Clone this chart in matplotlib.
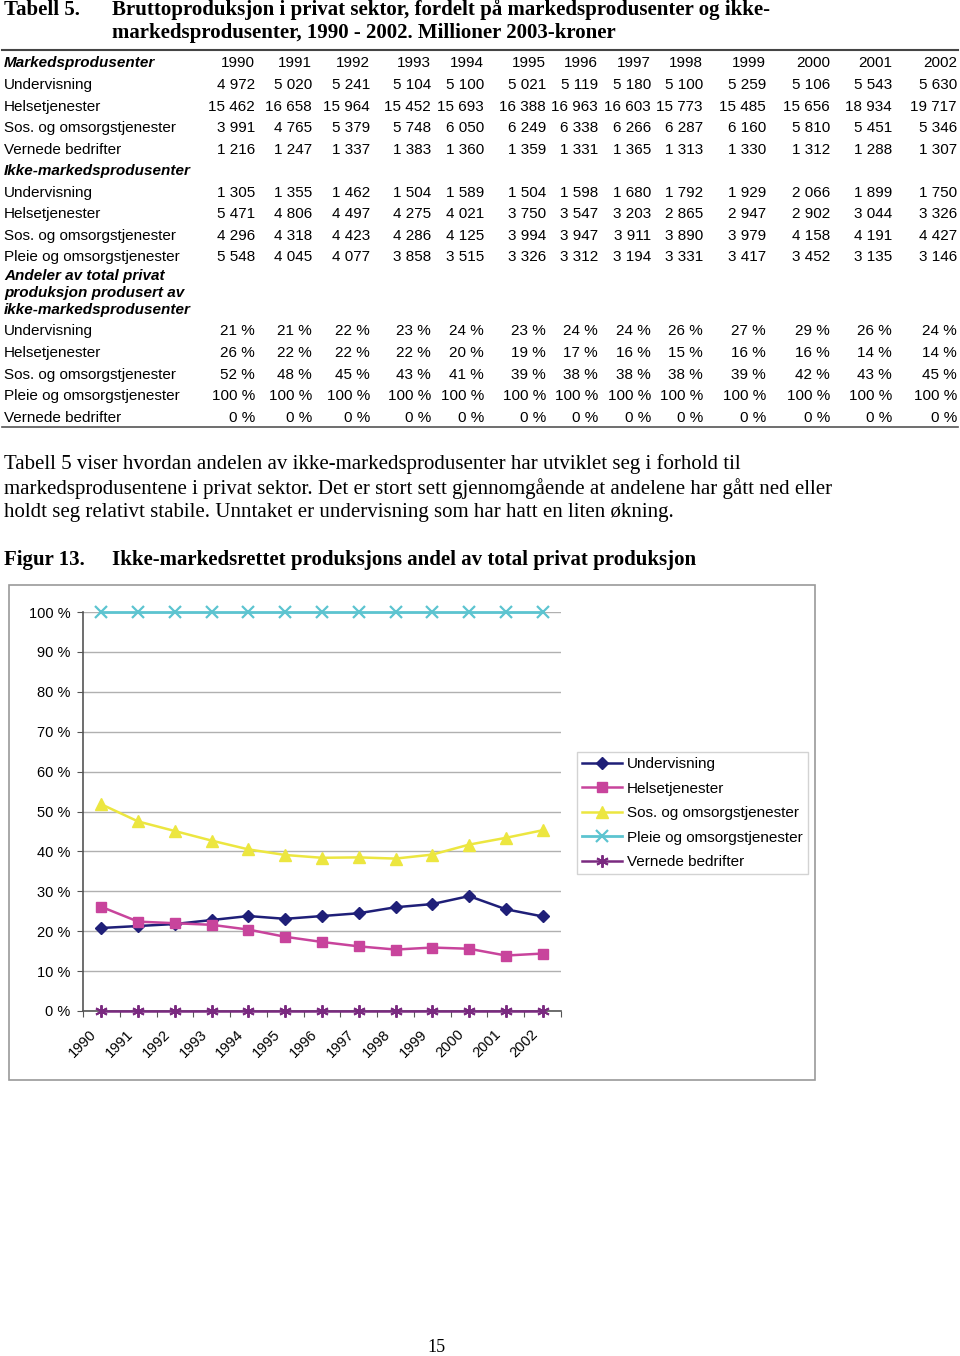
import matplotlib
matplotlib.use('Agg')
import matplotlib.pyplot as plt
import matplotlib.transforms as mtransforms
from matplotlib.patches import Rectangle

# Table data (Millioner 2003-kroner)
years = [1990, 1991, 1992, 1993, 1994, 1995, 1996, 1997, 1998, 1999, 2000, 2001, 2002]

mp_undervisning = [4972, 5020, 5241, 5104, 5100, 5021, 5119, 5180, 5100, 5259, 5106, 5543, 5630]
mp_helse = [15462, 16658, 15964, 15452, 15693, 16388, 16963, 16603, 15773, 15485, 15656, 18934, 19717]
mp_sos = [3991, 4765, 5379, 5748, 6050, 6249, 6338, 6266, 6287, 6160, 5810, 5451, 5346]
mp_vernede = [1216, 1247, 1337, 1383, 1360, 1359, 1331, 1365, 1313, 1330, 1312, 1288, 1307]

imp_undervisning = [1305, 1355, 1462, 1504, 1589, 1504, 1598, 1680, 1792, 1929, 2066, 1899, 1750]
imp_helse = [5471, 4806, 4497, 4275, 4021, 3750, 3547, 3203, 2865, 2947, 2902, 3044, 3326]
imp_sos = [4296, 4318, 4423, 4286, 4125, 3994, 3947, 3911, 3890, 3979, 4158, 4191, 4427]
imp_pleie = [5548, 4045, 4077, 3858, 3515, 3326, 3312, 3194, 3331, 3417, 3452, 3135, 3146]

pct_undervisning = [21, 21, 22, 23, 24, 23, 24, 24, 26, 27, 29, 26, 24]
pct_helse = [26, 22, 22, 22, 20, 19, 17, 16, 15, 16, 16, 14, 14]
pct_sos = [52, 48, 45, 43, 41, 39, 38, 38, 38, 39, 42, 43, 45]
pct_pleie = [100, 100, 100, 100, 100, 100, 100, 100, 100, 100, 100, 100, 100]
pct_vernede = [0, 0, 0, 0, 0, 0, 0, 0, 0, 0, 0, 0, 0]

# Chart data (share in %)
chart_undervisning = [20.8, 21.3, 21.8, 22.8, 23.8, 23.1, 23.8, 24.5, 26.0, 26.8, 28.8, 25.5, 23.7]
chart_helse = [26.1, 22.4, 22.0, 21.6, 20.4, 18.6, 17.3, 16.2, 15.4, 15.9, 15.6, 13.9, 14.4]
chart_sos = [51.8, 47.5, 45.1, 42.7, 40.5, 39.1, 38.4, 38.5, 38.2, 39.2, 41.7, 43.4, 45.3]
chart_pleie = [100, 100, 100, 100, 100, 100, 100, 100, 100, 100, 100, 100, 100]
chart_vernede = [0, 0, 0, 0, 0, 0, 0, 0, 0, 0, 0, 0, 0]

W, H = 960, 1356
fig = plt.figure(figsize=(W / 100, H / 100), dpi=100)

SANS = 'Liberation Sans'
SERIF = 'Liberation Serif'


def fx(x):
    return x / W


def fy(y):
    return 1 - y / H


def txt(x, y, s, **kw):
    kw.setdefault('family', SANS)
    kw.setdefault('fontsize', 11)
    kw.setdefault('va', 'center')
    fig.text(fx(x), fy(y), s, **kw)


def fmt(v):
    return f"{v:,}".replace(",", " ")


# Title
txt(4, 10, 'Tabell 5.', family=SERIF, fontsize=15, weight='bold')
txt(112, 10, 'Bruttoproduksjon i privat sektor, fordelt på markedsprodusenter og ikke-',
    family=SERIF, fontsize=15, weight='bold')
txt(112, 33, 'markedsprodusenter, 1990 - 2002. Millioner 2003-kroner',
    family=SERIF, fontsize=15, weight='bold')

# Table lines
fig.add_artist(plt.Line2D([fx(2), fx(958)], [fy(50), fy(50)], color='#444444', lw=1.5))
fig.add_artist(plt.Line2D([fx(2), fx(958)], [fy(427), fy(427)], color='#555555', lw=1.2))

col_right = [255, 312, 370, 431, 484, 546, 598, 651, 703, 766, 830, 892, 957]

# Header row
txt(4, 63, 'Markedsprodusenter', weight='bold', style='italic')
for x, yr in zip(col_right, years):
    txt(x, 63, str(yr), ha='right')

rows = [
    (85, 'Undervisning', mp_undervisning, False),
    (107, 'Helsetjenester', mp_helse, False),
    (128, 'Sos. og omsorgstjenester', mp_sos, False),
    (150, 'Vernede bedrifter', mp_vernede, False),
    (193, 'Undervisning', imp_undervisning, False),
    (214, 'Helsetjenester', imp_helse, False),
    (236, 'Sos. og omsorgstjenester', imp_sos, False),
    (257, 'Pleie og omsorgstjenester', imp_pleie, False),
    (331, 'Undervisning', pct_undervisning, True),
    (353, 'Helsetjenester', pct_helse, True),
    (375, 'Sos. og omsorgstjenester', pct_sos, True),
    (396, 'Pleie og omsorgstjenester', pct_pleie, True),
    (418, 'Vernede bedrifter', pct_vernede, True),
]
for y, label, vals, pct in rows:
    txt(4, y, label)
    for x, v in zip(col_right, vals):
        s = f"{v} %" if pct else fmt(v)
        txt(x, y, s, ha='right')

txt(4, 171, 'Ikke-markedsprodusenter', weight='bold', style='italic')
txt(4, 276, 'Andeler av total privat', weight='bold', style='italic')
txt(4, 293, 'produksjon produsert av', weight='bold', style='italic')
txt(4, 310, 'ikke-markedsprodusenter', weight='bold', style='italic')

# Body text
body = ['Tabell 5 viser hvordan andelen av ikke-markedsprodusenter har utviklet seg i forhold til',
        'markedsprodusentene i privat sektor. Det er stort sett gjennomgående at andelene har gått ned eller',
        'holdt seg relativt stabile. Unntaket er undervisning som har hatt en liten økning.']
for i, line in enumerate(body):
    txt(4, 464 + i * 24.5, line, family=SERIF, fontsize=15)

txt(4, 560, 'Figur 13.', family=SERIF, fontsize=15, weight='bold')
txt(112, 560, 'Ikke-markedsrettet produksjons andel av total privat produksjon',
    family=SERIF, fontsize=15, weight='bold')

# Chart frame
fig.add_artist(Rectangle((fx(9), fy(1080)), (815 - 9) / W, (1080 - 585) / H,
                         transform=fig.transFigure, fill=False, ec='#9a9a9a', lw=1.2))

ax = fig.add_axes([fx(83), fy(1011), (561 - 83) / W, (1011 - 612) / H])
x = list(range(len(years)))
ax.plot(x, chart_undervisning, color='#1f1f78', marker='D', ms=6, lw=1.8, label='Undervisning',
        clip_on=False)
ax.plot(x, chart_helse, color='#c8449c', marker='s', ms=7, lw=1.8, label='Helsetjenester',
        clip_on=False)
ax.plot(x, chart_sos, color='#ece640', marker='^', ms=8, lw=1.8, label='Sos. og omsorgstjenester',
        clip_on=False)
ax.plot(x, chart_pleie, color='#5cc4d0', marker='x', ms=8, mew=1.6, lw=2.0,
        label='Pleie og omsorgstjenester', clip_on=False)
ax.plot(x, chart_vernede, color='#7a2a80', marker=(6, 2, 0), ms=9, mew=1.4, lw=1.8,
        label='Vernede bedrifter', clip_on=False, zorder=5)

ax.set_xlim(-0.5, len(years) - 0.5)
ax.set_ylim(0, 100)
ax.set_yticks(range(0, 101, 10))
ax.set_yticklabels([f"{v} %" for v in range(0, 101, 10)], family=SANS, fontsize=10.5)
ax.set_xticks([i - 0.5 for i in range(len(years) + 1)])
ax.set_xticklabels([])
ax.tick_params(axis='x', length=4, color='#555555')
ax.tick_params(axis='y', length=4, color='#555555', pad=5)

# rotated year labels under each category
shift = mtransforms.ScaledTranslation(-0.12, -0.16, fig.dpi_scale_trans)
for i, yr in zip(x, years):
    ax.text(i, 0, str(yr), transform=ax.get_xaxis_transform() + shift, rotation=45,
            rotation_mode='anchor', ha='right', va='top', family=SANS, fontsize=10.5)

ax.grid(axis='y', color='#b0b0b0', lw=1)
ax.set_axisbelow(True)
ax.spines['top'].set_visible(False)
ax.spines['right'].set_visible(False)
ax.spines['left'].set_color('#555555')
ax.spines['bottom'].set_color('#555555')
for sp in ('left', 'bottom'):
    ax.spines[sp].set_linewidth(1.2)

leg = fig.legend(loc='upper left', bbox_to_anchor=(fx(577), fy(752)), prop={'family': SANS, 'size': 11},
                 frameon=True, fancybox=False, edgecolor='#c8c8c8', handlelength=2.6,
                 handletextpad=0.3, labelspacing=0.68, borderpad=0.35, borderaxespad=0)
leg.get_frame().set_linewidth(1.0)
leg.set_bbox_to_anchor((fx(577), fy(752)), transform=fig.transFigure)

# Page number
txt(436, 1347, '15', family=SERIF, fontsize=13, ha='center')

fig.savefig('out.png', dpi=100)
